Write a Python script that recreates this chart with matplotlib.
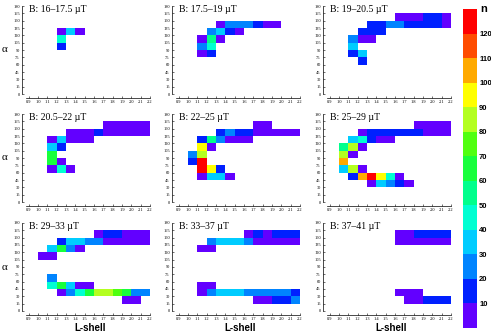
import numpy as np
import matplotlib
matplotlib.use('Agg')
import matplotlib.pyplot as plt
from matplotlib.colors import ListedColormap, BoundaryNorm
from matplotlib.colorbar import ColorbarBase
import numpy.ma as ma

# ---------------- data ----------------
titles = ["B: 16\u201317.5 \u00b5T", "B: 17.5\u201319 \u00b5T", "B: 19\u201320.5 \u00b5T",
          "B: 20.5\u201322 \u00b5T", "B: 22\u201325 \u00b5T", "B: 25\u201329 \u00b5T",
          "B: 29\u201333 \u00b5T", "B: 33\u201337 \u00b5T", "B: 37\u201341 \u00b5T"]

L_edges = np.round(np.arange(0.9, 2.2001, 0.1), 2)        # L-shell bin edges
alpha_edges = np.arange(0, 181, 15)                         # pitch-angle bin edges
x_ticklabels = ["0.9", "1.0", "1.1", "1.2", "1.3", "1.4", "1.5", "1.6", "1.7",
                "1.8", "1.9", "2.0", "2.1", "2.2"]
y_ticks = np.arange(0, 181, 15)
cbar_levels = np.arange(0, 131, 10)
cbar_ticks = np.arange(10, 121, 10)
cbar_colors = ['#6200ff', '#0020ff', '#0084ff', '#00ccff', '#00ffd2', '#00ff8c',
               '#18ff3c', '#50ff10', '#b4ff20', '#ffff00', '#ffaa00', '#ff4c00', '#ff0000']

# each row: (alpha bin start, first L bin start, counts n along L)
panel1 = [(120, 1.2, [5, 35, 5]), (105, 1.2, [45]), (90, 1.2, [15])]
panel2 = [(135, 1.3, [5, 25, 25, 25, 15, 5, 5]), (120, 1.2, [25, 35, 15, 5]),
          (105, 1.1, [5, 55, 5]), (90, 1.1, [25, 45]), (75, 1.1, [5, 15])]
panel3 = [(150, 1.6, [5, 5, 5, 15, 15, 5]), (135, 1.3, [15, 15, 25, 25, 15, 15, 15, 15, 5]),
          (120, 1.2, [15, 15, 15]), (105, 1.1, [25, 5, 5]), (90, 1.1, [35]),
          (75, 1.1, [15, 35]), (60, 1.2, [15])]
panel4 = [(150, 1.7, [5, 5, 5, 5, 5]), (135, 1.3, [5, 5, 5, 15, 5, 5, 5, 5, 5]),
          (120, 1.1, [5, 35, 5, 5, 5]), (105, 1.1, [35, 15]), (90, 1.1, [65]),
          (75, 1.1, [65, 5]), (60, 1.1, [5, 45, 5])]
panel5 = [(150, 1.7, [5, 5]), (135, 1.3, [15, 25, 15, 15, 5, 5, 5, 5, 5]),
          (120, 1.1, [15, 55, 25, 5, 5, 5]), (105, 1.1, [95, 5]), (90, 1.0, [25, 85]),
          (75, 1.0, [15, 125]), (60, 1.1, [125, 95, 15]), (45, 1.1, [5, 35, 35, 5])]
panel6 = [(150, 1.8, [5, 5, 5, 5]), (135, 1.2, [5, 15, 15, 15, 15, 15, 15, 5, 5, 5]),
          (120, 1.1, [35, 45, 15, 5, 5]), (105, 1.0, [55, 85, 5]), (90, 1.0, [85, 5]),
          (75, 1.0, [105]), (60, 1.0, [35, 85, 5]),
          (45, 1.1, [15, 105, 125, 95, 45, 5]), (30, 1.3, [5, 35, 25, 15, 5])]
panel7 = [(150, 1.6, [5, 15, 15, 5, 5, 5]), (135, 1.2, [15, 35, 35, 25, 25, 5, 5, 5, 5, 5]),
          (120, 1.1, [35, 65, 25, 5]), (105, 1.0, [5, 5]), (60, 1.1, [25]),
          (45, 1.1, [45, 65, 35, 5, 5]),
          (30, 1.2, [5, 25, 45, 65, 85, 85, 75, 65, 25, 25]), (15, 1.9, [5, 5])]
panel8 = [(150, 1.6, [5, 15, 5, 15, 15, 15]), (135, 1.2, [25, 35, 35, 35, 25, 5, 5, 5, 5, 5]),
          (120, 1.1, [5, 5]), (45, 1.1, [5, 5]),
          (30, 1.1, [5, 25, 35, 35, 35, 25, 25, 25, 25, 25, 15]),
          (15, 1.7, [5, 5, 15, 15, 25])]
panel9 = [(150, 1.6, [5, 5, 15, 15, 15, 15]), (135, 1.6, [5, 5, 5, 5, 5, 5]),
          (30, 1.6, [5, 5, 5]), (15, 1.7, [5, 5, 15, 15, 15])]

panels = [panel1, panel2, panel3, panel4, panel5, panel6, panel7, panel8, panel9]

# ---------------- figure ----------------
W, H = 491, 335
fig = plt.figure(figsize=(W / 100, H / 100), dpi=100)
cmap = ListedColormap(cbar_colors)
norm = BoundaryNorm(cbar_levels, cmap.N)

serif = ['Liberation Serif', 'DejaVu Serif']
sans = ['Liberation Sans', 'DejaVu Sans']

col_left = [26, 176, 327]      # px of L=0.87
row_top = [6, 114, 223]        # px of alpha=180
ax_w, ax_h = 124, 88
xlo, xhi = 0.87, 2.2

for k, rows in enumerate(panels):
    r, c = divmod(k, 3)
    left = col_left[c] / W
    bottom = 1 - (row_top[r] + ax_h) / H
    ax = fig.add_axes([left, bottom, ax_w / W, ax_h / H])

    Z = np.full((len(alpha_edges) - 1, len(L_edges) - 1), np.nan)
    for a0, l0, vals in rows:
        i = int(round(a0 / 15))
        j0 = int(round((l0 - 0.9) / 0.1))
        for m, v in enumerate(vals):
            Z[i, j0 + m] = v
    ax.pcolormesh(L_edges, alpha_edges, ma.masked_invalid(Z), cmap=cmap, norm=norm,
                  edgecolor='none', antialiased=False)

    ax.set_xlim(xlo, xhi)
    ax.set_ylim(0, 180)
    for s in ['top', 'right']:
        ax.spines[s].set_visible(False)
    ax.spines['left'].set_position(('outward', 3))
    ax.spines['bottom'].set_position(('outward', 3))
    ax.spines['left'].set_linewidth(0.5)
    ax.spines['bottom'].set_linewidth(0.5)
    ax.spines['bottom'].set_bounds(xlo, xhi)
    ax.set_xticks(L_edges)
    ax.set_xticklabels(x_ticklabels, fontsize=3.2, family=serif)
    ax.set_yticks(y_ticks)
    ax.set_yticklabels([str(v) for v in y_ticks], fontsize=3.2, family=serif)
    ax.tick_params(direction='in', length=1.5, width=0.4, pad=1.5)
    ax.patch.set_alpha(0)

    ax.text(0.905, 172, titles[k], fontsize=7, family=serif, ha='left', va='center')
    if c == 0:
        ax.text(-0.17, 0.5, "\u03b1", transform=ax.transAxes, fontsize=8,
                family=serif, ha='center', va='center')
    if r == 2:
        ax.text(0.52, -0.19, "L-shell", transform=ax.transAxes, fontsize=7,
                family=sans, fontweight='bold', ha='center', va='center')

# colorbar
cax = fig.add_axes([463 / W, 1 - 328 / H, 14 / W, 319 / H])
cb = ColorbarBase(cax, cmap=cmap, norm=norm, boundaries=cbar_levels,
                  ticks=cbar_ticks, orientation='vertical')
cb.outline.set_visible(False)
cax.minorticks_off()
for s in cax.spines.values():
    s.set_visible(False)
cax.tick_params(length=0, pad=1.5)
cax.set_yticks(cbar_ticks)
cax.set_yticklabels([str(v) for v in cbar_ticks], fontsize=5.5, fontweight='bold',
                    family=sans)
fig.text(484 / W, 1 - 9 / H, "n", fontsize=8, fontweight='bold', family=sans,
         ha='center', va='center')

fig.savefig("out.png", dpi=100)
